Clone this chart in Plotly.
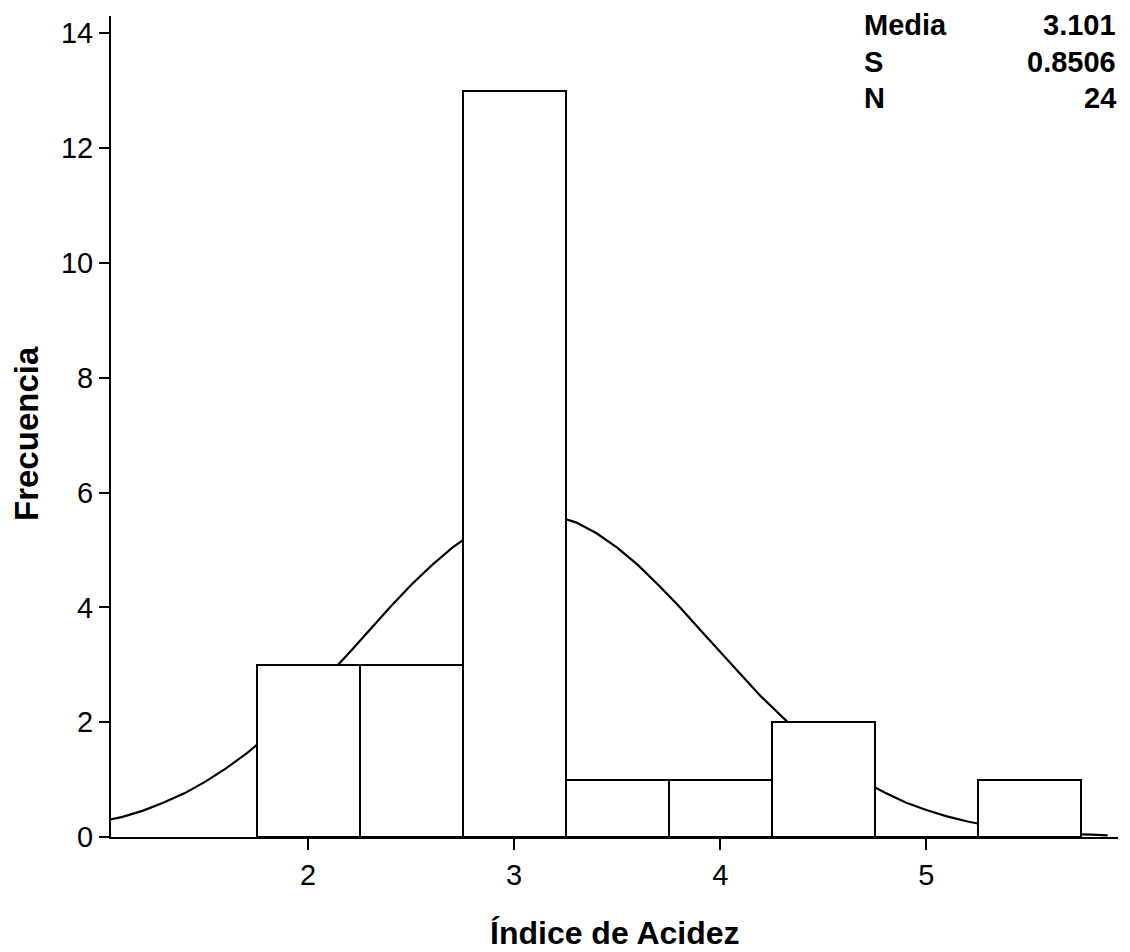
import plotly.graph_objects as go

# Histogram data
bin_centers = [2.0, 2.5, 3.0, 3.5, 4.0, 4.5, 5.0, 5.5]
counts = [3, 3, 13, 1, 1, 2, 0, 1]
bin_width = 0.5

# Fitted curve
curve_x = [1.0, 1.1, 1.2, 1.3, 1.4, 1.5, 1.6, 1.7, 1.8, 1.9, 2.0, 2.1, 2.2, 2.3, 2.4, 2.5,
           2.6, 2.7, 2.8, 2.9, 3.0, 3.1, 3.2, 3.3, 3.4, 3.5, 3.6, 3.7, 3.8, 3.9, 4.0, 4.1,
           4.2, 4.3, 4.4, 4.5, 4.6, 4.7, 4.8, 4.9, 5.0, 5.1, 5.2, 5.3, 5.4, 5.5, 5.6, 5.7,
           5.8, 5.88]
curve_y = [0.27, 0.35, 0.46, 0.60, 0.76, 0.96, 1.19, 1.45, 1.75, 2.08, 2.44, 2.82, 3.21,
           3.61, 4.01, 4.39, 4.73, 5.04, 5.29, 5.48, 5.59, 5.63, 5.59, 5.48, 5.29, 5.04,
           4.74, 4.39, 4.02, 3.62, 3.22, 2.83, 2.44, 2.09, 1.75, 1.46, 1.19, 0.96, 0.77,
           0.60, 0.47, 0.36, 0.27, 0.20, 0.15, 0.11, 0.08, 0.05, 0.04, 0.03]

x_ticks = [2, 3, 4, 5]
y_ticks = [0, 2, 4, 6, 8, 10, 12, 14]
stat_names = ["Media", "S", "N"]
stat_values = ["3.101", "0.8506", "24"]

x_title = "Índice de Acidez"
y_title = "Frecuencia"

x_range = [1.044, 5.93]
y_range = [0, 14.30]

FAMILY = "Liberation Sans, Arial, sans-serif"
tick_font = dict(family=FAMILY, size=29, color="black")
bold_font = dict(family=FAMILY, size=29, color="black")

fig = go.Figure()

fig.add_trace(go.Scatter(
    x=curve_x, y=curve_y, mode="lines",
    line=dict(color="black", width=2.2),
    xaxis="x", yaxis="y", showlegend=False, hoverinfo="skip"
))

fig.add_trace(go.Bar(
    x=bin_centers, y=counts, width=bin_width,
    marker=dict(color="white", line=dict(color="black", width=2)),
    xaxis="x2", yaxis="y2", showlegend=False
))

# page body adds an 8px offset; figure sized so the plot lands where the reference has it
fig.update_layout(
    width=1122, height=944,
    margin=dict(l=103, r=12, t=8, b=115),
    paper_bgcolor="white", plot_bgcolor="white",
    bargap=0,
    xaxis=dict(range=x_range, tickvals=x_ticks, ticktext=[str(v) for v in x_ticks],
               showgrid=False, zeroline=False, showline=True, linecolor="black", linewidth=2,
               ticks="outside", ticklen=11, tickwidth=2, tickcolor="black",
               tickfont=tick_font, automargin=False),
    yaxis=dict(range=y_range, tickvals=y_ticks, ticktext=[str(v) for v in y_ticks],
               showgrid=False, zeroline=False, showline=True, linecolor="black", linewidth=2,
               ticks="outside", ticklen=10, tickwidth=2, tickcolor="black",
               tickfont=tick_font, automargin=False),
    xaxis2=dict(range=x_range, overlaying="x", visible=False),
    yaxis2=dict(range=y_range, overlaying="y", visible=False),
)

annotations = []
annotations.append(dict(text="<b>" + x_title + "</b>", xref="paper", yref="paper",
                        x=0.5005, y=-0.1170, xanchor="center", yanchor="middle",
                        showarrow=False, font=dict(family=FAMILY, size=32, color="black")))
annotations.append(dict(text="<b>" + y_title + "</b>", xref="paper", yref="paper",
                        x=-0.0834, y=0.4909, xanchor="center", yanchor="middle",
                        textangle=-90, showarrow=False,
                        font=dict(family=FAMILY, size=33, color="black")))
row_y = [0.989, 0.944, 0.900]
for name, val, ry in zip(stat_names, stat_values, row_y):
    annotations.append(dict(text="<b>" + name + "</b>", xref="paper", yref="paper",
                            x=0.746, y=ry, xanchor="left", yanchor="middle",
                            showarrow=False, font=bold_font))
    annotations.append(dict(text="<b>" + val + "</b>", xref="paper", yref="paper",
                            x=1.0, y=ry, xanchor="right", yanchor="middle",
                            showarrow=False, font=bold_font))
fig.update_layout(annotations=annotations)

fig.write_html("out.html")
